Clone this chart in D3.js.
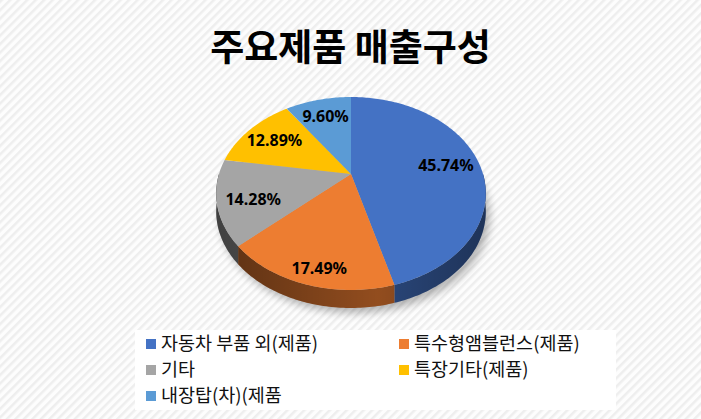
<!DOCTYPE html>
<html>
<head>
<meta charset="utf-8">
<script src="https://cdn.jsdelivr.net/npm/d3@7"></script>
<style>
  html, body { margin: 0; padding: 0; background: #fff; }
  svg { display: block; }
</style>
</head>
<body>
<div id="chart-container"></div>
<script>
const W = 701, H = 419;

// chart data
const chartTitle = "주요제품 매출구성";
const categories = ["자동차 부품 외(제품)", "특수형앰블런스(제품)", "기타", "특장기타(제품)", "내장탑(차)(제품"];
const shares = [45.74, 17.49, 14.28, 12.89, 9.60];
const colors = ["#4472C4", "#ED7D31", "#A5A5A5", "#FFC000", "#5B9BD5"];

// 3D pie geometry (tilted disc, simple perspective)
const cx = 351, R = 132, depth = 18;
const pa = 57.4, pb = 174, pc = -0.202;

const proj = (r, t) => {
  const u = r * Math.sin(t), v = -r * Math.cos(t);
  const den = 1 + pc * v;
  return [cx + R * u / den, (pa * v + pb) / den, v];
};

const arcPoints = (t0, t1, dy = 0) => {
  const n = Math.max(2, Math.ceil((t1 - t0) / (Math.PI / 180)));
  return d3.range(n + 1).map(i => {
    const p = proj(1, t0 + (t1 - t0) * i / n);
    return [p[0], p[1] + dy];
  });
};

const line = d3.line();

const svg = d3.select("#chart-container")
  .append("svg")
  .attr("width", W)
  .attr("height", H);

const defs = svg.append("defs");

// striped background
const pat = defs.append("pattern")
  .attr("id", "stripes")
  .attr("width", 6).attr("height", 6)
  .attr("patternUnits", "userSpaceOnUse")
  .attr("patternTransform", "rotate(-45)");
pat.append("rect").attr("width", 6).attr("height", 6).attr("fill", "#fdfdfd");
pat.append("rect").attr("width", 6).attr("height", 2.5).attr("fill", "#eeeeee");

const blur = defs.append("filter").attr("id", "shadow")
  .attr("x", "-20%").attr("y", "-20%").attr("width", "140%").attr("height", "140%");
blur.append("feGaussianBlur").attr("stdDeviation", 4);

const sideGrad = defs.append("linearGradient")
  .attr("id", "sideShade")
  .attr("gradientUnits", "userSpaceOnUse")
  .attr("x1", cx - R).attr("x2", cx + R).attr("y1", 0).attr("y2", 0);
sideGrad.append("stop").attr("offset", "0%").attr("stop-color", "#000").attr("stop-opacity", 0.4);
sideGrad.append("stop").attr("offset", "60%").attr("stop-color", "#000").attr("stop-opacity", 0.05);
sideGrad.append("stop").attr("offset", "100%").attr("stop-color", "#000").attr("stop-opacity", 0.3);

svg.append("rect")
  .attr("width", W).attr("height", H)
  .attr("fill", "url(#stripes)");

// title
svg.append("text")
  .attr("x", W / 2)
  .attr("y", 61)
  .attr("text-anchor", "middle")
  .style("font-family", "'Noto Sans CJK KR', sans-serif")
  .style("font-size", "37px")
  .style("font-weight", "bold")
  .style("fill", "#000")
  .text(chartTitle);

const pie = d3.pie().sort(null).value(d => d);
const slices = pie(shares);

const g = svg.append("g");

// soft shadow under the disc
g.append("path")
  .attr("d", line(arcPoints(0, Math.PI * 2, depth)) + "Z")
  .attr("transform", "translate(4,5)")
  .attr("fill", "#000")
  .attr("opacity", 0.28)
  .attr("filter", "url(#shadow)");

// side walls (front half only)
const lo = Math.PI / 2, hi = Math.PI * 1.5;
slices.forEach((s, i) => {
  const t0 = Math.max(s.startAngle, lo), t1 = Math.min(s.endAngle, hi);
  if (t1 <= t0) return;
  const top = arcPoints(t0, t1, 0);
  const bot = arcPoints(t0, t1, depth).reverse();
  const d = line(top.concat(bot)) + "Z";
  g.append("path")
    .attr("d", d)
    .attr("fill", d3.color(colors[i]).darker(1.2));
  g.append("path")
    .attr("d", d)
    .attr("fill", "url(#sideShade)");
});

// top faces
slices.forEach((s, i) => {
  const c = proj(0, 0);
  const pts = [[c[0], c[1]]].concat(arcPoints(s.startAngle, s.endAngle, 0));
  g.append("path")
    .attr("d", line(pts) + "Z")
    .attr("fill", colors[i]);
});

// value labels
slices.forEach((s, i) => {
  const mid = (s.startAngle + s.endAngle) / 2;
  const p = proj(0.74, mid);
  g.append("text")
    .attr("x", p[0])
    .attr("y", p[1] + Math.max(0, p[2]) * depth * 1.4)
    .attr("dy", "0.35em")
    .attr("text-anchor", "middle")
    .style("font-family", "'Noto Sans', sans-serif")
    .style("font-size", "16px")
    .style("font-weight", "bold")
    .style("fill", "#000")
    .text(shares[i].toFixed(2) + "%");
});

// legend
const legend = svg.append("g");
legend.append("rect")
  .attr("x", 135).attr("y", 330)
  .attr("width", 481).attr("height", 80)
  .attr("fill", "#fff");

legend.selectAll(".legend-item")
  .data(categories)
  .enter().append("g")
  .attr("class", "legend-item")
  .attr("transform", (d, i) => `translate(${i % 2 === 0 ? 146 : 399}, ${344 + Math.floor(i / 2) * 26})`)
  .each(function(d, i) {
    d3.select(this).append("rect")
      .attr("x", 0).attr("y", -5)
      .attr("width", 10).attr("height", 10)
      .attr("fill", colors[i]);
    d3.select(this).append("text")
      .attr("x", 15)
      .attr("y", 0)
      .attr("dy", "0.35em")
      .style("font-family", "'Noto Sans CJK KR', sans-serif")
      .style("font-size", "18.5px")
      .style("fill", "#111")
      .text(d);
  });
</script>
</body>
</html>
